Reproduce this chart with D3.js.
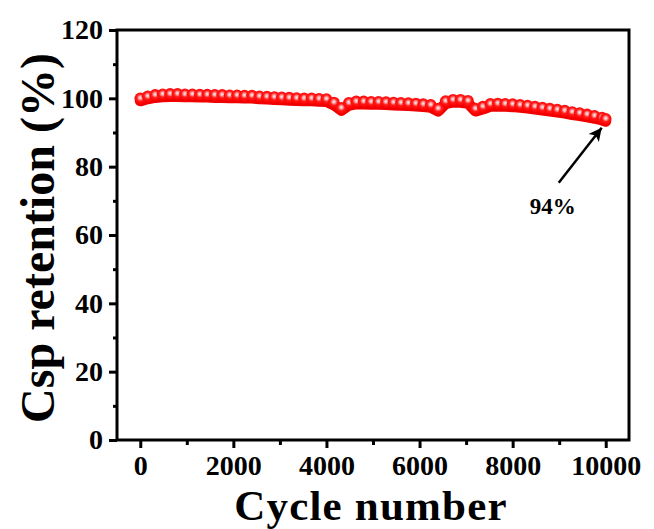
<!DOCTYPE html>
<html>
<head>
<meta charset="utf-8">
<script src="https://cdn.jsdelivr.net/npm/d3@7"></script>
<style>
  html, body { margin: 0; padding: 0; background: #fff; }
  svg { display: block; }
  text { font-family: "Liberation Serif", "Times New Roman", serif; font-weight: bold; fill: #000; }
</style>
</head>
<body>
<svg id="chart" width="654" height="529"></svg>
<script>
// ---- data ----
const cycles = [0,160,320,480,640,800,960,1120,1280,1440,1600,1760,1920,2080,2240,2400,
  2560,2720,2880,3040,3200,3360,3520,3680,3840,4000,4160,4320,4480,4640,4800,4960,
  5120,5280,5440,5600,5760,5920,6080,6240,6400,6560,6720,6880,7040,7200,7360,7520,
  7680,7840,8000,8160,8320,8480,8640,8800,8960,9120,9280,9440,9600,9760,9920,10000];
const retention = [100.0,100.6,101.0,101.2,101.3,101.3,101.2,101.2,101.1,101.1,101.0,101.0,100.9,100.9,100.8,100.8,
  100.6,100.5,100.4,100.3,100.2,100.1,100.0,100.0,99.9,99.8,98.8,97.2,98.7,99.1,99.1,99.0,
  99.0,98.9,98.8,98.7,98.6,98.5,98.3,98.1,97.0,99.2,99.6,99.6,99.3,97.0,97.6,98.4,
  98.5,98.4,98.3,98.1,97.9,97.6,97.3,97.0,96.7,96.4,96.0,95.7,95.3,94.9,94.4,94.0];
const xTicks = [0, 2000, 4000, 6000, 8000, 10000];
const xMinorTicks = [1000, 3000, 5000, 7000, 9000];
const yTicks = [0, 20, 40, 60, 80, 100, 120];
const yMinorTicks = [10, 30, 50, 70, 90, 110];
const xTitle = "Cycle number";
const yTitle = "Csp retention (%)";
const annotationText = "94%";
const annotationPoint = [10000, 94];

// ---- layout ----
const svg = d3.select("#chart");
const mLeft = 117, mRight = 629, mTop = 30, mBottom = 440;
const x = d3.scaleLinear().domain([-500, 10500]).range([mLeft, mRight]);
const y = d3.scaleLinear().domain([0, 120]).range([mBottom, mTop]);

const defs = svg.append("defs");
const grad = defs.append("radialGradient").attr("id", "ball")
  .attr("cx", "50%").attr("cy", "45%").attr("r", "55%");
grad.append("stop").attr("offset", "0%").attr("stop-color", "#fff0f0");
grad.append("stop").attr("offset", "22%").attr("stop-color", "#ffb0b0");
grad.append("stop").attr("offset", "55%").attr("stop-color", "#ff1a1a");
grad.append("stop").attr("offset", "100%").attr("stop-color", "#ff0000");

const data = cycles.map((c, i) => ({c, v: retention[i]}));

const g = svg.append("g");
g.append("path").datum(data)
  .attr("d", d3.line().x(d => x(d.c)).y(d => y(d.v) + 2.5))
  .attr("fill", "none").attr("stroke", "#f00000").attr("stroke-width", 11)
  .attr("stroke-linejoin", "round").attr("stroke-linecap", "round");
g.selectAll("circle.m").data(data).enter().append("circle")
  .attr("class", "m")
  .attr("cx", d => x(d.c)).attr("cy", d => y(d.v))
  .attr("r", 5.8)
  .attr("fill", "url(#ball)");

// ---- axes ----
const axisW = 3;
const xAxis = svg.append("g").attr("transform", `translate(0,${mBottom})`)
  .call(d3.axisBottom(x).tickValues(xTicks).tickSize(8).tickPadding(6).tickFormat(d3.format("d")));
const xAxisMinor = svg.append("g").attr("transform", `translate(0,${mBottom})`)
  .call(d3.axisBottom(x).tickValues(xMinorTicks).tickSize(5).tickFormat(""));
const yAxis = svg.append("g").attr("transform", `translate(${mLeft},0)`)
  .call(d3.axisLeft(y).tickValues(yTicks).tickSize(8).tickPadding(6).tickFormat(d3.format("d")));
const yAxisMinor = svg.append("g").attr("transform", `translate(${mLeft},0)`)
  .call(d3.axisLeft(y).tickValues(yMinorTicks).tickSize(4).tickFormat(""));
[xAxis, xAxisMinor, yAxis, yAxisMinor].forEach(a => {
  a.select(".domain").remove();
  a.selectAll(".tick line").attr("stroke", "#000").attr("stroke-width", axisW);
});
xAxis.selectAll(".tick text").style("font-size", "28px").attr("dy", "0.74em");
yAxis.selectAll(".tick text").style("font-size", "28px");

svg.append("rect")
  .attr("x", mLeft).attr("y", mTop).attr("width", mRight - mLeft).attr("height", mBottom - mTop)
  .attr("fill", "none").attr("stroke", "#000").attr("stroke-width", axisW);

svg.append("text").attr("x", (mLeft + mRight) / 2 - 2).attr("y", 520)
  .attr("text-anchor", "middle").style("font-size", "43px").style("letter-spacing", "1.2px")
  .text(xTitle);
svg.append("text")
  .attr("transform", `translate(54,${(mTop + mBottom) / 2 + 3}) rotate(-90)`)
  .attr("text-anchor", "middle").style("font-size", "48px")
  .text(yTitle);

defs.append("marker").attr("id", "arrow").attr("viewBox", "0 0 10 10")
  .attr("refX", 10).attr("refY", 5).attr("markerUnits", "userSpaceOnUse")
  .attr("markerWidth", 18).attr("markerHeight", 13).attr("orient", "auto")
  .append("path").attr("d", "M0,0 L10,5 L0,10 L2.5,5 Z").attr("fill", "#000");
const px = x(annotationPoint[0]), py = y(annotationPoint[1]);
svg.append("line")
  .attr("x1", px - 47).attr("y1", py + 64)
  .attr("x2", px - 4).attr("y2", py + 9)
  .attr("stroke", "#000").attr("stroke-width", 2.5)
  .attr("marker-end", "url(#arrow)");
svg.append("text").attr("x", px - 53).attr("y", py + 95)
  .attr("text-anchor", "middle").style("font-size", "23px")
  .text(annotationText);
</script>
</body>
</html>
